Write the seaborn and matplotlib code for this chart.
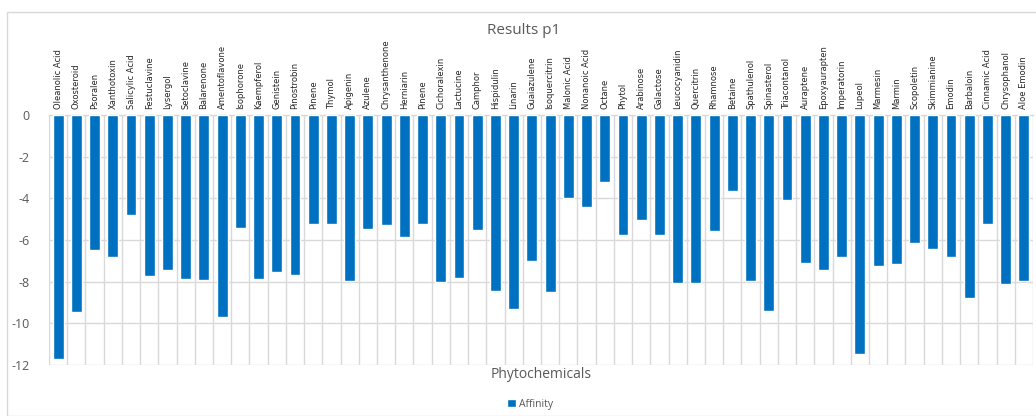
import numpy as np
import pandas as pd
import matplotlib
matplotlib.use("Agg")
import matplotlib.pyplot as plt
import seaborn as sns
from matplotlib.patches import Rectangle

compounds = [
    "Oleanolic Acid", "Oxosteroid", "Psoralen", "Xanthotoxin", "Salicylic Acid",
    "Festuclavine", "Lysergol", "Setoclavine", "Balarenone", "Amentoflavone",
    "Isophorone", "Kaempferol", "Genistein", "Pinostrobin", "Pinene", "Thymol",
    "Apigenin", "Azulene", "Chrysanthenone", "Herniarin", "Pinene", "Cichoralexin",
    "Lactucine", "Camphor", "Hispidulin", "Linarin", "Guaiazulene", "Isoquercitrin",
    "Malonic Acid", "Nonanoic Acid", "Octane", "Phytol", "Arabinose", "Galactose",
    "Leucocyanidin", "Quercitrin", "Rhamnose", "Betaine", "Spathulenol",
    "Spinasterol", "Triacontanol", "Auraptene", "Epoxyaurapten", "Imperatorin",
    "Lupeol", "Marmesin", "Marmin", "Scopoletin", "Skimmianine", "Emodin",
    "Barbaloin", "Cinnamic Acid", "Chrysophanol", "Aloe Emodin",
]
affinity = [
    -11.7, -9.45, -6.5, -6.8, -4.8,
    -7.75, -7.45, -7.85, -7.9, -9.7,
    -5.4, -7.85, -7.55, -7.7, -5.25, -5.25,
    -7.95, -5.45, -5.3, -5.85, -5.25, -8.0,
    -7.8, -5.5, -8.45, -9.3, -7.0, -8.5,
    -4.0, -4.4, -3.2, -5.75, -5.05, -5.75,
    -8.05, -8.05, -5.55, -3.65, -7.95,
    -9.4, -4.1, -7.1, -7.45, -6.8,
    -11.45, -7.25, -7.15, -6.15, -6.45, -6.8,
    -8.8, -5.25, -8.1, -7.95,
]

df = pd.DataFrame({"pos": np.arange(len(compounds)), "Affinity": affinity})

sns.set_theme(style="white")
plt.rcParams["font.family"] = ["Open Sans", "DejaVu Sans"]

W, H = 1036, 416
fig = plt.figure(figsize=(W / 100, H / 100), dpi=100)
fig.patch.set_facecolor("white")

# chart-area frame (partly clipped by the canvas edge)
fig.patches.append(Rectangle((7 / W, 0), 1.2, 1 - 12 / H, transform=fig.transFigure,
                             fill=False, edgecolor="#d9d9d9", linewidth=1.0, zorder=0))

left, right, top, bottom = 49 / W, 1033 / W, 115 / H, 365 / H
ax = fig.add_axes([left, 1 - bottom, right - left, bottom - top])

bar_color = "#0070C0"
sns.barplot(data=df, x="pos", y="Affinity", color=bar_color, saturation=1,
            width=0.6, ax=ax, label="Affinity", zorder=3)

n = len(compounds)
ax.set_xlim(-0.5, n - 0.5)
ax.set_ylim(-12, 0)
ax.set_yticks(np.arange(-12, 1, 2))
ax.set_yticklabels([str(v) for v in range(-12, 1, 2)], fontsize=9, color="#595959")

ax.xaxis.tick_top()
ax.set_xticks(np.arange(n))
ax.set_xticklabels(compounds, rotation=90, fontsize=6, color="#262626",
                   family=["Liberation Sans Narrow", "DejaVu Sans"])
ax.set_xticks(np.arange(-0.5, n, 1), minor=True)
ax.tick_params(axis="x", which="both", length=0, pad=4)
ax.tick_params(axis="y", length=0, pad=14)

ax.grid(axis="y", which="major", color="#d9d9d9", linewidth=1.0, zorder=0)
ax.grid(axis="x", which="minor", color="#d9d9d9", linewidth=1.0, zorder=0)
ax.grid(axis="x", which="major", visible=False)
ax.set_axisbelow(True)

for s in ["left", "right", "bottom"]:
    ax.spines[s].set_visible(False)
ax.spines["top"].set_color("#d9d9d9")
ax.spines["top"].set_linewidth(1.0)

ax.set_xlabel("")
ax.set_ylabel("")
fig.text(524 / W, 1 - 30 / H, "Results p1", ha="center", va="center",
         fontsize=11, color="#595959")
fig.text(541 / W, 1 - 375 / H, "Phytochemicals", ha="center", va="center",
         fontsize=10, color="#595959")

ax.legend(loc="center", bbox_to_anchor=(530 / W, 1 - 404 / H),
          bbox_transform=fig.transFigure, frameon=False, fontsize=7.5,
          handlelength=0.9, handleheight=0.7, handletextpad=0.3,
          labelcolor="#595959")

fig.savefig("out.png", dpi=100, facecolor="white")
